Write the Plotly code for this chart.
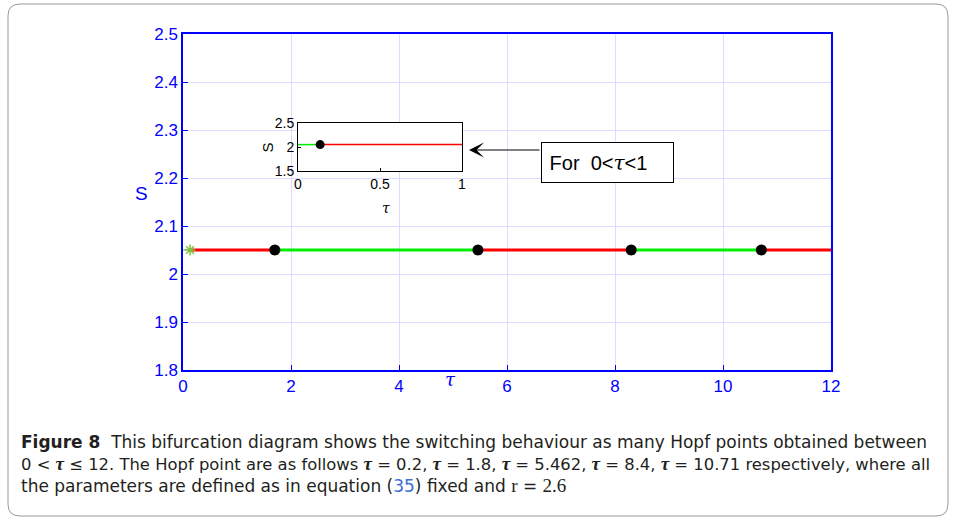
import plotly.graph_objects as go

# ---- data ----
S_eq = 2.05
seg_bounds = [0.13, 1.7, 5.462, 8.3, 10.71, 12.0]
seg_colors = ["#ff0000", "#00ee00", "#ff0000", "#00ee00", "#ff0000"]
hopf_tau = [1.7, 5.462, 8.3, 10.71]
start_tau = [0.13]

inset_bounds = [0.0, 0.135, 1.0]
inset_colors = ["#00ee00", "#ff0000"]
inset_hopf = [0.135]

x_ticks = [0, 2, 4, 6, 8, 10, 12]
y_ticks = [1.8, 1.9, 2.0, 2.1, 2.2, 2.3, 2.4, 2.5]
y_ticklabels = ["1.8", "1.9", "2", "2.1", "2.2", "2.3", "2.4", "2.5"]

W, H = 956, 520
L, R, T, B = 183, 831, 34, 370


def px(x):
    return (x - L) / (R - L)


def py(y):
    return (B - y) / (B - T)


fig = go.Figure()
# main curve segments
fig.add_trace(go.Scatter(x=[0, start_tau[0]], y=[S_eq, S_eq], mode="lines",
                         line=dict(color="#7fc040", width=1), showlegend=False))
for i, c in enumerate(seg_colors):
    fig.add_trace(go.Scatter(x=[seg_bounds[i], seg_bounds[i + 1]], y=[S_eq, S_eq],
                             mode="lines", line=dict(color=c, width=3), showlegend=False))
fig.add_trace(go.Scatter(x=start_tau, y=[S_eq], mode="markers",
                         marker=dict(symbol="asterisk-open", size=9, color="#80c040",
                                     line=dict(color="#80c040", width=1.5)),
                         showlegend=False))
fig.add_trace(go.Scatter(x=hopf_tau, y=[S_eq] * len(hopf_tau), mode="markers",
                         marker=dict(color="black", size=11), showlegend=False))

# inset
for i, c in enumerate(inset_colors):
    fig.add_trace(go.Scatter(x=[inset_bounds[i], inset_bounds[i + 1]], y=[S_eq, S_eq],
                             mode="lines", line=dict(color=c, width=1.5),
                             xaxis="x2", yaxis="y2", showlegend=False))
fig.add_trace(go.Scatter(x=inset_hopf, y=[S_eq], mode="markers",
                         marker=dict(color="black", size=9),
                         xaxis="x2", yaxis="y2", showlegend=False))

blue = "#0000ff"
grid = "#dcdcff"
axfont = dict(family="Liberation Sans", size=17, color=blue)
inset_font = dict(family="Liberation Sans", size=14, color="black")

fig.update_layout(
    width=W, height=H,
    margin=dict(l=L, r=W - R, t=T, b=H - B),
    paper_bgcolor="white", plot_bgcolor="white",
    xaxis=dict(range=[0, 12], tickvals=x_ticks, showgrid=True, gridcolor=grid,
               showline=True, linecolor=blue, linewidth=1.5, mirror=True,
               ticks="inside", ticklen=5, tickcolor=blue, tickfont=axfont,
               zeroline=False),
    yaxis=dict(range=[1.8, 2.5], tickvals=y_ticks, ticktext=y_ticklabels,
               showgrid=True, gridcolor=grid,
               showline=True, linecolor=blue, linewidth=1.5, mirror=True,
               ticks="inside", ticklen=5, tickcolor=blue, tickfont=axfont,
               zeroline=False),
    xaxis2=dict(domain=[px(298), px(462)], anchor="y2", range=[0, 1],
                tickvals=[0, 0.5, 1], ticktext=["0", "0.5", "1"],
                showline=True, linecolor="black", linewidth=1, mirror=True,
                ticks="inside", ticklen=3, tickcolor="black", showgrid=False,
                zeroline=False, tickfont=inset_font),
    yaxis2=dict(domain=[py(171), py(123)], anchor="x2", range=[1.5, 2.5],
                tickvals=[1.5, 2, 2.5], ticktext=["1.5", "2", "2.5"],
                showline=True, linecolor="black", linewidth=1, mirror=True,
                ticks="inside", ticklen=3, tickcolor="black", showgrid=False,
                zeroline=False, tickfont=inset_font),
)

# inset white background (drawn in the inset subplot, above main grid)
fig.add_shape(type="rect", xref="x2 domain", yref="y2 domain",
              x0=0, x1=1, y0=0, y1=1,
              fillcolor="white", line=dict(width=0), layer="below")

# outer rounded border
x0, x1, y0, y1, r = px(8), px(948), py(516), py(4), 12
rx, ry = r / (R - L), r / (B - T)
path = (f"M {x0+rx},{y1} L {x1-rx},{y1} Q {x1},{y1} {x1},{y1-ry} "
        f"L {x1},{y0+ry} Q {x1},{y0} {x1-rx},{y0} L {x0+rx},{y0} "
        f"Q {x0},{y0} {x0},{y0+ry} L {x0},{y1-ry} Q {x0},{y1} {x0+rx},{y1} Z")
fig.add_shape(type="path", xref="paper", yref="paper", path=path,
              line=dict(color="#999999", width=1))

anns = []
# axis titles
anns.append(dict(x=px(133), y=py(193), xref="paper", yref="paper", text="S",
                 showarrow=False, font=dict(family="Liberation Sans", size=19, color=blue)))
anns.append(dict(x=px(450), y=py(392), xref="paper", yref="paper", text="<i>τ</i>",
                 showarrow=False, font=dict(family="DejaVu Serif", size=18, color=blue)))
anns.append(dict(x=px(256), y=py(148), xref="paper", yref="paper", text="S", textangle=-90,
                 showarrow=False, font=dict(family="Liberation Sans", size=15, color="black")))
anns.append(dict(x=px(380), y=py(208), xref="paper", yref="paper", text="<i>τ</i>",
                 showarrow=False, font=dict(family="DejaVu Serif", size=14, color="black")))
# callout box
anns.append(dict(x=px(541), y=py(162.5), xref="paper", yref="paper",
                 text="\u00a0For\u00a0\u00a00&lt;<span style='font-family:DejaVu Serif'><i>τ</i></span>&lt;1",
                 showarrow=False,
                 width=127, height=35, bordercolor="black", borderwidth=1, borderpad=2,
                 bgcolor="white", xanchor="left", yanchor="middle", align="left",
                 font=dict(family="Liberation Sans", size=20, color="black")))
# arrow
anns.append(dict(x=px(469), y=py(150), xref="paper", yref="paper",
                 ax=72, ay=0, axref="pixel", ayref="pixel", text="",
                 showarrow=True, arrowhead=3, arrowsize=2.5, arrowwidth=1, arrowcolor="black"))

tau = "<span style='font-family:Liberation Serif;font-size:19px'><b><i>τ</i></b></span>"
serif = "<span style='font-family:Liberation Serif;font-size:19px'>{}</span>"
caption = (
    "<b>Figure 8</b>  This bifurcation diagram shows the switching behaviour as many Hopf points obtained between<br>"
    "<span style='font-size:16.4px'>"
    f"0 &lt; {tau} ≤ 12. The Hopf point are as follows {tau} = 0.2, {tau} = 1.8, {tau} = 5.462, {tau} = 8.4, {tau} = 10.71 respectively, where all"
    "</span><br>"
    "the parameters are defined as in equation (<span style='color:#3a6fd8'>35</span>) fixed and "
    + serif.format("r") + " = " + serif.format("2.6")
)
anns.append(dict(x=px(19), y=py(430), xref="paper", yref="paper", text=caption,
                 showarrow=False, xanchor="left", yanchor="top", align="left",
                 font=dict(family="DejaVu Sans", size=17, color="#231f20")))
fig.update_layout(annotations=anns)

fig.write_html("out.html", config={"displayModeBar": False},
               post_script="document.body.style.margin='0';document.body.style.overflow='hidden';")
